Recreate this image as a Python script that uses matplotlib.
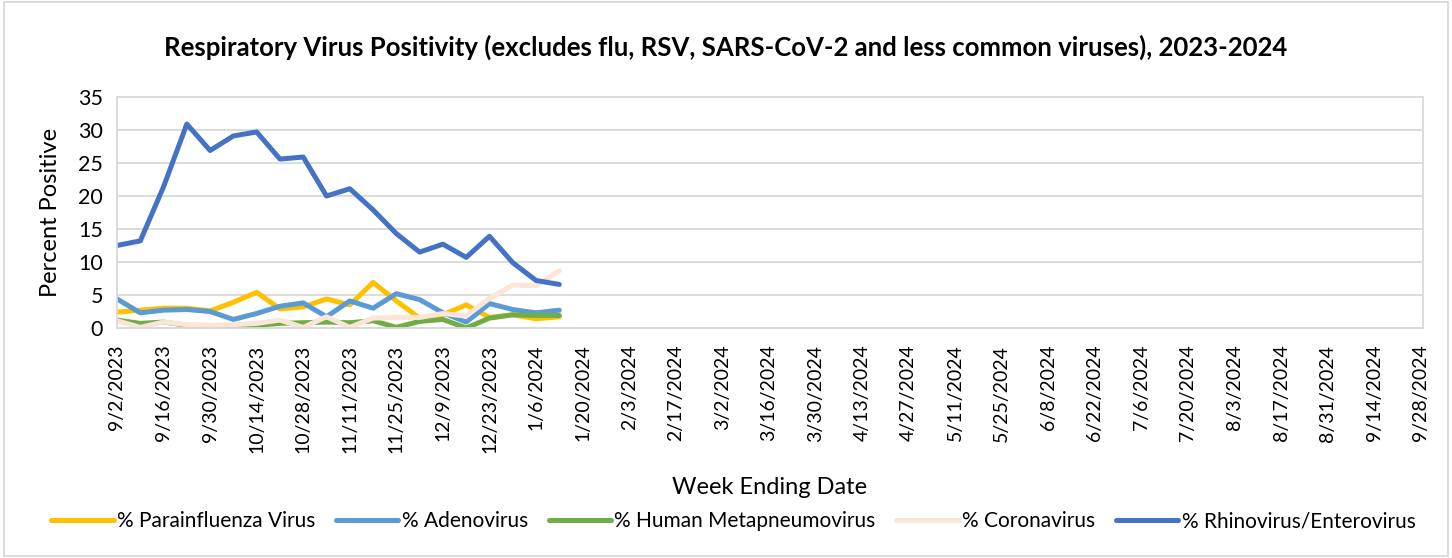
import matplotlib
matplotlib.use("Agg")
import matplotlib.pyplot as plt
import pandas as pd
from matplotlib.patches import Rectangle

plt.rcParams["font.family"] = ["Lato", "DejaVu Sans"]

# weekly categories, 9/2/2023 .. 9/28/2024
weeks = pd.date_range("2023-09-02", "2024-09-28", freq="7D")
week_labels = [f"{d.month}/{d.day}/{d.year}" for d in weeks]

parainfluenza = [2.4, 2.7, 3.0, 3.0, 2.6, 3.9, 5.4, 2.9, 3.2, 4.4,
                 3.5, 6.9, 4.1, 1.5, 2.0, 3.5, 1.6, 2.0, 1.4, 1.7]
adenovirus = [4.4, 2.3, 2.7, 2.8, 2.5, 1.3, 2.2, 3.3, 3.8, 1.7,
              4.1, 3.0, 5.2, 4.3, 2.3, 0.9, 3.7, 2.8, 2.3, 2.7]
hmpv = [1.2, 0.7, 0.9, 0.4, 0.1, 0.1, 0.4, 0.7, 0.8, 0.9,
        0.8, 1.1, 0.1, 1.0, 1.3, 0.0, 1.5, 2.0, 1.9, 1.9]
coronavirus = [1.1, 0.1, 0.9, 0.5, 0.4, 0.5, 0.7, 1.2, 0.1, 1.7,
               0.1, 1.5, 1.6, 1.6, 2.2, 1.8, 4.5, 6.5, 6.4, 8.7]
rhino = [12.5, 13.2, 21.4, 30.9, 26.9, 29.1, 29.7, 25.6, 25.9, 20.0,
         21.1, 17.9, 14.3, 11.5, 12.7, 10.7, 13.9, 9.9, 7.2, 6.6]

series = [
    ("% Parainfluenza Virus", parainfluenza, "#FFC000"),
    ("% Adenovirus", adenovirus, "#5B9BD5"),
    ("% Human Metapneumovirus", hmpv, "#70AD47"),
    ("% Coronavirus", coronavirus, "#FBE5D6"),
    ("% Rhinovirus/Enterovirus", rhino, "#4472C4"),
]

fig = plt.figure(figsize=(14.52, 5.58), dpi=100)
ax = fig.add_axes([117 / 1452, 1 - 328 / 558, (1423 - 117) / 1452, (328 - 97) / 558])

for name, vals, color in series:
    ax.plot(range(len(vals)), vals, color=color, lw=3.6, label=name,
            solid_joinstyle="round", solid_capstyle="round")

ax.set_xlim(0, (1423 - 117) / 23.28)
ax.set_ylim(0, 35)
ax.set_yticks(range(0, 36, 5))
ax.set_xticks(range(0, len(week_labels), 2))
ax.set_xticklabels(week_labels[::2], rotation=90, fontsize=14)
ax.tick_params(axis="y", labelsize=15.5, length=0, pad=10)
ax.tick_params(axis="x", length=0, pad=12)
ax.grid(axis="y", color="#d9d9d9", lw=1.3)
for s in ax.spines.values():
    s.set_color("#d9d9d9")
    s.set_linewidth(1.3)

ax.set_ylabel("Percent Positive", fontsize=17, labelpad=12)
ax.set_xlabel("Week Ending Date", fontsize=17, labelpad=17)
fig.text(0.5, 1 - 47 / 558, "Respiratory Virus Positivity (excludes flu, RSV, SARS-CoV-2 and less common viruses), 2023-2024",
         fontsize=18.5, fontweight="bold", ha="center", va="center")

fig.legend(loc="center", bbox_to_anchor=(0.505, 1 - 521 / 558), ncol=5, frameon=False,
           fontsize=15, handlelength=3.0, columnspacing=1.0, handletextpad=0.15)

fig.patches.append(Rectangle((0.003, 0.003), 0.994, 0.994, transform=fig.transFigure,
                             fill=False, edgecolor="#d9d9d9", lw=1.3))

fig.savefig("out.png", dpi=100)
